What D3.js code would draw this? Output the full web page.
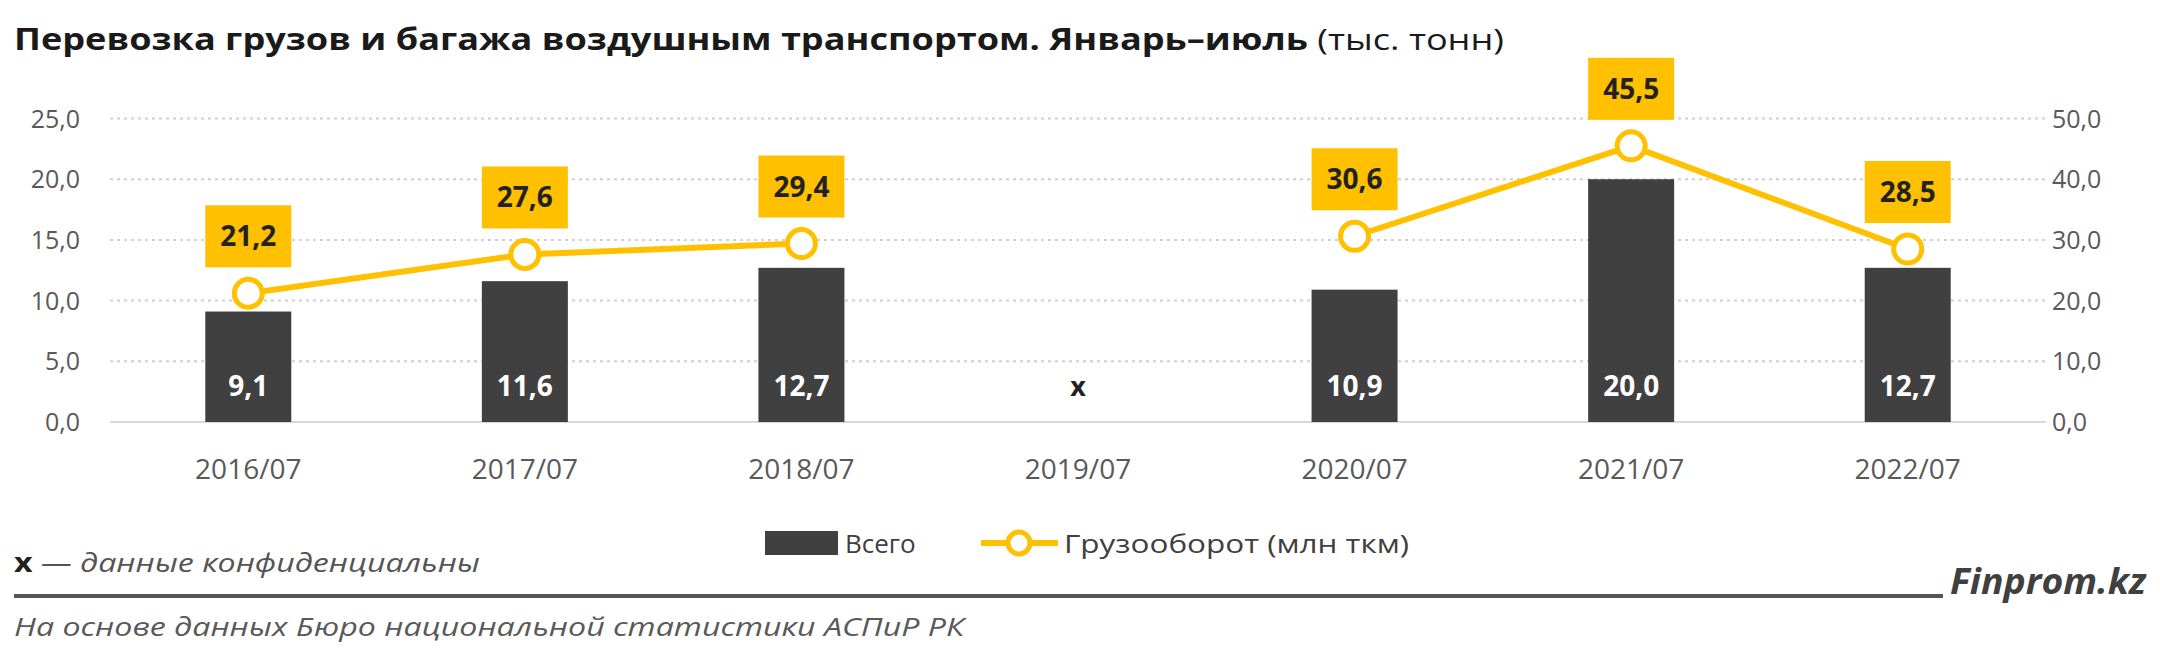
<!DOCTYPE html><html><head><meta charset="utf-8"><script src="https://cdn.jsdelivr.net/npm/d3@7"></script>
<style>body{margin:0;background:#fff}</style></head><body><svg id="c" width="2160" height="659"></svg><script>
const categories=["2016/07","2017/07","2018/07","2019/07","2020/07","2021/07","2022/07"];
const totals=[9.1,11.6,12.7,null,10.9,20.0,12.7];
const turnover=[21.2,27.6,29.4,null,30.6,45.5,28.5];
const leftTicks=[0,5,10,15,20,25];
const rightTicks=[0,10,20,30,40,50];
const svg=d3.select("#c");
const F="'Open Sans',sans-serif";
const fmt=v=>v.toFixed(1).replace(".",",");
const x=d3.scaleBand().domain(categories).range([110,2046]);
const y=d3.scaleLinear().domain([0,25]).range([422,118.5]);
const y2=d3.scaleLinear().domain([0,50]).range([422,118.5]);
svg.append("text").attr("x",14).attr("y",50).attr("font-family",F).attr("font-size",30).attr("fill","#1a1a1a").attr("textLength",1490).attr("lengthAdjust","spacingAndGlyphs")
 .html('<tspan font-weight="bold">Перевозка грузов и багажа воздушным транспортом. Январь–июль</tspan> (тыс. тонн)');
leftTicks.forEach(t=>{ if(t>0) svg.append("line").attr("x1",110).attr("x2",2046).attr("y1",y(t)).attr("y2",y(t)).attr("stroke","#d0d0d0").attr("stroke-width",2).attr("stroke-dasharray","3,4");
 svg.append("text").attr("x",80).attr("y",y(t)+9).attr("text-anchor","end").attr("font-family",F).attr("font-size",25).attr("fill","#595959").text(fmt(t));});
rightTicks.forEach(t=>svg.append("text").attr("x",2052).attr("y",y2(t)+9).attr("font-family",F).attr("font-size",25).attr("fill","#595959").text(fmt(t)));
svg.append("line").attr("x1",110).attr("x2",2046).attr("y1",422).attr("y2",422).attr("stroke","#d9d9d9").attr("stroke-width",2);
const cx=c=>x(c)+x.bandwidth()/2;
categories.forEach((c,i)=>{
 svg.append("text").attr("x",cx(c)).attr("y",479).attr("text-anchor","middle").attr("font-family",F).attr("font-size",28).attr("fill","#595959").text(c);
 const v=totals[i];
 if(v==null){svg.append("text").attr("x",cx(c)).attr("y",396).attr("text-anchor","middle").attr("font-family",F).attr("font-weight","bold").attr("font-size",27).attr("fill","#222").text("x");return;}
 svg.append("rect").attr("x",cx(c)-43).attr("width",86).attr("y",y(v)).attr("height",422-y(v)).attr("fill","#404040");
 svg.append("text").attr("x",cx(c)).attr("y",396).attr("text-anchor","middle").attr("font-family",F).attr("font-weight","bold").attr("font-size",28).attr("fill","#fff").text(fmt(v));
});
const segs=[[0,1,2],[4,5,6]];
const line=d3.line().x(i=>cx(categories[i])).y(i=>y2(turnover[i]));
segs.forEach(s=>svg.append("path").attr("d",line(s)).attr("fill","none").attr("stroke","#FFC000").attr("stroke-width",6));
categories.forEach((c,i)=>{const v=turnover[i]; if(v==null)return;
 svg.append("circle").attr("cx",cx(c)).attr("cy",y2(v)).attr("r",14).attr("fill","#fff").attr("stroke","#FFC000").attr("stroke-width",5);
 const ly=y2(v)-57;
 svg.append("rect").attr("x",cx(c)-43).attr("y",ly-31).attr("width",86).attr("height",62).attr("fill","#FFC000");
 svg.append("text").attr("x",cx(c)).attr("y",ly+10).attr("text-anchor","middle").attr("font-family",F).attr("font-weight","bold").attr("font-size",28).attr("fill","#222").text(fmt(v));
});
svg.append("rect").attr("x",765).attr("y",531).attr("width",73).attr("height",24).attr("fill","#404040");
svg.append("text").attr("x",845).attr("y",553).attr("font-family",F).attr("font-size",26).attr("fill","#404040").text("Всего");
svg.append("line").attr("x1",981).attr("x2",1058).attr("y1",543).attr("y2",543).attr("stroke","#FFC000").attr("stroke-width",6);
svg.append("circle").attr("cx",1019).attr("cy",543).attr("r",11).attr("fill","#fff").attr("stroke","#FFC000").attr("stroke-width",5);
svg.append("text").attr("x",1064).attr("y",553).attr("font-family",F).attr("font-size",26).attr("fill","#404040").attr("textLength",345).attr("lengthAdjust","spacingAndGlyphs").text("Грузооборот (млн ткм)");
svg.append("text").attr("x",14).attr("y",572).attr("font-family",F).attr("font-size",26).attr("fill","#555").attr("textLength",466).attr("lengthAdjust","spacingAndGlyphs")
 .html('<tspan font-weight="bold" fill="#222">x</tspan><tspan font-style="italic"> — данные конфиденциальны</tspan>');
svg.append("line").attr("x1",14).attr("x2",1943).attr("y1",596).attr("y2",596).attr("stroke","#555").attr("stroke-width",4);
svg.append("text").attr("x",2146).attr("y",594).attr("text-anchor","end").attr("font-family",F).attr("font-weight","bold").attr("font-style","italic").attr("font-size",36).attr("fill","#404040").attr("textLength",196).attr("lengthAdjust","spacingAndGlyphs").text("Finprom.kz");
svg.append("text").attr("x",14).attr("y",636).attr("font-family",F).attr("font-style","italic").attr("font-size",26).attr("fill","#595959").attr("textLength",950).attr("lengthAdjust","spacingAndGlyphs").text("На основе данных Бюро национальной статистики АСПиР РК");
</script></body></html>
